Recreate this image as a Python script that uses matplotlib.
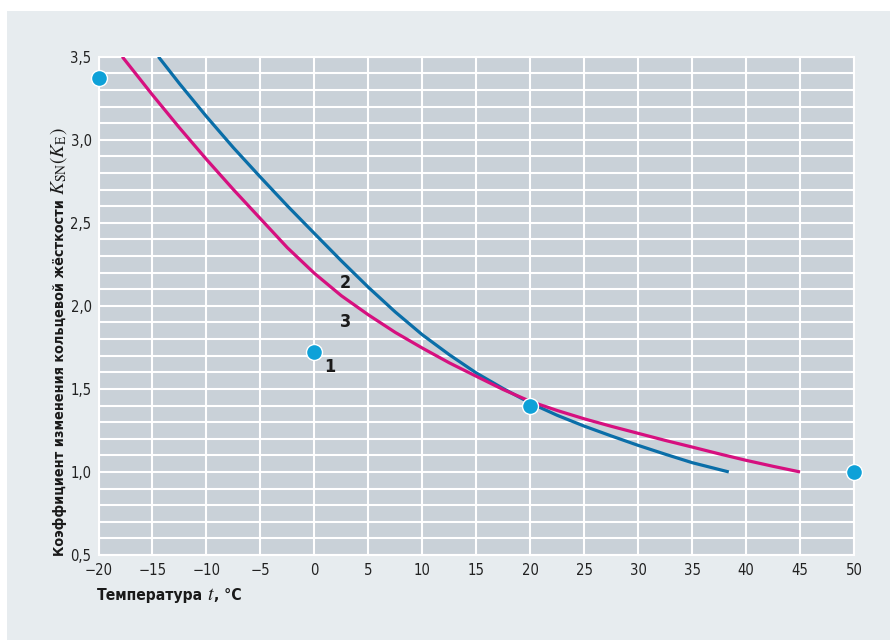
import numpy as np
import matplotlib
matplotlib.use("Agg")
import matplotlib.pyplot as plt
import matplotlib.font_manager as fm
from matplotlib.patches import Rectangle
from matplotlib.ticker import FuncFormatter, MultipleLocator

# --- Data ---
# curve 2 (blue)
t_curve2 = [-14.45, -12.5, -10, -7.5, -5, -2.5, 0, 2.5, 5, 7.5, 10, 12.5, 15,
            17.5, 20, 22.5, 25, 27.5, 30, 32.5, 35, 38.4]
k_curve2 = [3.50, 3.338, 3.140, 2.952, 2.775, 2.602, 2.436, 2.271, 2.112, 1.963, 1.826,
            1.706, 1.596, 1.502, 1.415, 1.341, 1.276, 1.217, 1.160, 1.107, 1.056, 1.00]
# curve 3 (magenta)
t_curve3 = [-17.8, -15, -12.5, -10, -7.5, -5, -2.5, 0, 2.5, 5, 7.5, 10, 12.5, 15,
            17.5, 20, 22.5, 25, 27.5, 30, 32.5, 35, 37.5, 40, 42.5, 45]
k_curve3 = [3.50, 3.270, 3.072, 2.882, 2.700, 2.525, 2.350, 2.196, 2.061, 1.946, 1.840,
            1.746, 1.657, 1.576, 1.496, 1.425, 1.370, 1.320, 1.275, 1.2325, 1.19, 1.150,
            1.109, 1.070, 1.034, 1.00]
# points (curve 1)
t_points = [-20, 0, 20, 50]
k_points = [3.37, 1.72, 1.40, 1.00]

curve_labels = ["1", "2", "3"]
label_pos = [(1.4, 1.63), (2.9, 2.14), (2.9, 1.90)]

# --- Styles ---
panel_color = "#e7ecef"
plot_color = "#c9d1d8"
blue = "#0a6ea8"
magenta = "#d6107f"
cyan = "#0ea1d8"
ink = "#1a1a1a"

# pick a narrow font if there is one
names = {f.name for f in fm.fontManager.ttflist}
condensed = any(f.name == "DejaVu Sans" and f.stretch in ("condensed", 87.5, 75)
                for f in fm.fontManager.ttflist)
if "Liberation Sans Narrow" in names:
    narrow, stretch, scale = ["Liberation Sans Narrow", "DejaVu Sans"], "normal", 1.0
elif condensed:
    narrow, stretch, scale = ["DejaVu Sans"], "condensed", 0.92
else:
    narrow, stretch, scale = ["DejaVu Sans"], "normal", 0.78

plt.rcParams["mathtext.fontset"] = "stix"

fig = plt.figure(figsize=(8.9, 6.4), dpi=100, facecolor="white")
fig.patches.append(Rectangle((7 / 890, 0), 1 - 7 / 890, 1 - 11 / 640,
                             transform=fig.transFigure, facecolor=panel_color,
                             edgecolor="none", zorder=-10))

ax = fig.add_axes([98.5 / 890, 1 - 555 / 640, (854 - 98.5) / 890, (555 - 56.7) / 640])
ax.set_facecolor(plot_color)
ax.set_xlim(-20, 50)
ax.set_ylim(0.5, 3.5)
ax.xaxis.set_major_locator(MultipleLocator(5))
ax.yaxis.set_major_locator(MultipleLocator(0.5))
ax.yaxis.set_minor_locator(MultipleLocator(0.1))
ax.grid(True, which="both", color="white", linewidth=1.5)
ax.set_axisbelow(True)
for sp in ax.spines.values():
    sp.set_color("white")
    sp.set_linewidth(1.5)
ax.tick_params(which="both", length=0, labelsize=11.5 * scale, colors="#222222")
ax.tick_params(axis="x", pad=6)
ax.tick_params(axis="y", pad=5)
ax.xaxis.set_major_formatter(FuncFormatter(lambda v, p: f"{v:.0f}".replace("-", "\u2212")))
ax.yaxis.set_major_formatter(FuncFormatter(lambda v, p: f"{v:.1f}".replace(".", ",")))
for lab in ax.get_xticklabels() + ax.get_yticklabels():
    lab.set_family(narrow)
    lab.set_stretch(stretch)
    lab.set_fontweight("light")

ax.plot(t_curve2, k_curve2, color=blue, linewidth=2.3, solid_capstyle="butt",
        solid_joinstyle="round", zorder=3)
ax.plot(t_curve3, k_curve3, color=magenta, linewidth=2.3, solid_capstyle="butt",
        solid_joinstyle="round", zorder=3)
ax.plot(t_points, k_points, "o", color=cyan, markersize=11.5, markeredgecolor="white",
        markeredgewidth=1.0, clip_on=False, zorder=4)

for txt, (xx, yy) in zip(curve_labels, label_pos):
    ax.text(xx, yy, txt, fontsize=14 * scale, fontweight="bold", family=narrow,
            stretch=stretch, color=ink, ha="center", va="center", zorder=5)

# x label: bold text with a bigger italic t
base_y = 1 - 600 / 640
xl1 = fig.text(97 / 890, base_y, "Температура", fontsize=12.2 * scale,
               fontweight="bold", family=narrow, stretch=stretch, color=ink,
               ha="left", va="baseline")
xl2 = ax.annotate("$t$", xy=(1, base_y), xycoords=(xl1, "figure fraction"),
                  xytext=(2.5, 0), textcoords="offset points", fontsize=14,
                  color=ink, ha="left", va="baseline", annotation_clip=False)
ax.annotate(", °C", xy=(1, base_y), xycoords=(xl2, "figure fraction"),
            fontsize=12.2 * scale, fontweight="bold", family=narrow, stretch=stretch,
            color=ink, ha="left", va="baseline", annotation_clip=False)

# y label: bold text, then K_SN(K_E) in serif math
base_x = 64 / 890
yl1 = fig.text(base_x, 1 - 556 / 640, "Коэффициент изменения кольцевой жёсткости",
               fontsize=11.2 * scale, fontweight="bold", family=narrow, stretch=stretch,
               color=ink, rotation=90, ha="left", va="baseline",
               rotation_mode="anchor")
ax.annotate("$K_{\\mathrm{SN}}(K_{\\mathrm{E}})$", xy=(base_x, 1),
            xycoords=("figure fraction", yl1), xytext=(0, 3), textcoords="offset points",
            fontsize=14, color=ink, rotation=90, ha="left", va="baseline",
            rotation_mode="anchor", annotation_clip=False)

fig.savefig("out.png", dpi=100, facecolor="white")
